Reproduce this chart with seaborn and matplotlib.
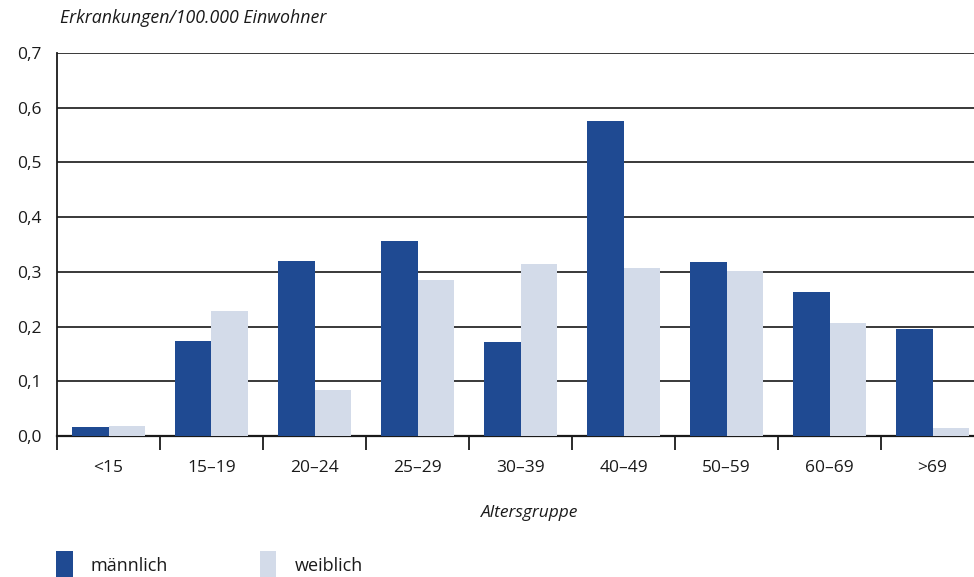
import matplotlib
matplotlib.use("Agg")
import matplotlib.pyplot as plt
import seaborn as sns
import pandas as pd
from matplotlib.patches import Patch
from matplotlib.ticker import FixedLocator

# Age groups and incidence per 100,000 inhabitants
age_groups = ["<15", "15–19", "20–24", "25–29", "30–39", "40–49", "50–59", "60–69", ">69"]
male = [0.016, 0.174, 0.320, 0.357, 0.172, 0.576, 0.318, 0.264, 0.196]
female = [0.018, 0.229, 0.084, 0.285, 0.314, 0.307, 0.302, 0.207, 0.015]
sex_labels = ["männlich", "weiblich"]
y_ticks = [0.0, 0.1, 0.2, 0.3, 0.4, 0.5, 0.6, 0.7]
y_tick_labels = ["0,0", "0,1", "0,2", "0,3", "0,4", "0,5", "0,6", "0,7"]

colors = {"männlich": "#1f4a92", "weiblich": "#d3dbe9"}

df = pd.DataFrame({
    "Altersgruppe": age_groups * 2,
    "Wert": male + female,
    "Geschlecht": [sex_labels[0]] * len(age_groups) + [sex_labels[1]] * len(age_groups),
})

sns.set_theme(style="white")
plt.rcParams["font.family"] = ["Open Sans", "DejaVu Sans"]

fig = plt.figure(figsize=(9.74, 5.77), dpi=100)
ax = fig.add_axes([57 / 974, 141 / 577, 927 / 974, 383 / 577])

sns.barplot(data=df, x="Altersgruppe", y="Wert", hue="Geschlecht",
            order=age_groups, hue_order=sex_labels, palette=colors,
            width=0.7, saturation=1, linewidth=0, ax=ax, legend=False, zorder=3)

ax.set_xlim(-0.5, len(age_groups) - 0.5)
ax.set_ylim(0, 0.7)

ax.set_yticks(y_ticks)
ax.set_yticklabels(y_tick_labels, fontsize=12.5, color="#1a1a1a")
ax.yaxis.grid(True, color="#2a2a2a", linewidth=1.3, zorder=0)
ax.set_axisbelow(True)
ax.tick_params(axis="y", length=0, pad=11)

# Category labels centred, tick marks on category boundaries
ax.tick_params(axis="x", which="major", length=0, pad=17, labelsize=12.5, labelcolor="#1a1a1a")
ax.xaxis.set_minor_locator(FixedLocator([i - 0.5 for i in range(len(age_groups) + 1)]))
ax.tick_params(axis="x", which="minor", length=10, width=1.3, color="#1a1a1a", direction="out", bottom=True)

for side in ["top", "right"]:
    ax.spines[side].set_visible(False)
ax.spines["left"].set_color("#1a1a1a")
ax.spines["left"].set_linewidth(1.3)
ax.spines["bottom"].set_color("#1a1a1a")
ax.spines["bottom"].set_linewidth(1.6)

ax.set_ylabel("")
ax.set_xlabel("Altersgruppe", fontsize=12.5, style="italic", color="#1a1a1a")
ax.xaxis.set_label_coords((530 - 57) / 927, -(505 - 436) / 383)

fig.text(60 / 974, 1 - 18 / 577, "Erkrankungen/100.000 Einwohner", fontsize=12.8,
         style="italic", color="#1a1a1a", ha="left", va="center")

handles = [Patch(facecolor=colors[s], edgecolor="none", label=s) for s in sex_labels]
fig.legend(handles=handles, loc="lower left", bbox_to_anchor=(40 / 974, -18 / 577),
           ncol=2, frameon=False, fontsize=13, handlelength=0.9, handleheight=2.0,
           handletextpad=1.0, columnspacing=5.1, labelcolor="#1a1a1a")

fig.savefig("out.png", dpi=100)
